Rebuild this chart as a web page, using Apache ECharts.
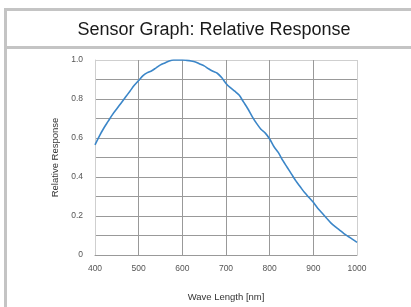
<!DOCTYPE html>
<html><head><meta charset="utf-8">
<script src="https://cdn.jsdelivr.net/npm/echarts@6/dist/echarts.min.js"></script>
<style>html,body{margin:0;padding:0;background:#fff;}#c{width:411px;height:307px;}</style>
</head><body><div id="c"></div>
<script>
const titleText = 'Sensor Graph: Relative Response';
const xName = 'Wave Length [nm]';
const yName = 'Relative Response';
const wavelengths = [400,410,420,430,440,450,460,470,480,490,500,510,520,530,540,550,560,570,580,590,600,610,620,630,640,650,660,670,680,690,700,710,720,730,740,750,760,770,780,790,800,810,820,830,840,850,860,870,880,890,900,910,920,930,940,950,960,970,980,990,1000];
const response = [0.565,0.61,0.65,0.685,0.72,0.75,0.78,0.81,0.84,0.87,0.895,0.92,0.935,0.945,0.96,0.975,0.985,0.995,1.0,1.0,1.0,0.998,0.995,0.99,0.98,0.97,0.955,0.942,0.932,0.91,0.88,0.858,0.84,0.82,0.785,0.75,0.71,0.675,0.645,0.625,0.595,0.555,0.525,0.485,0.45,0.415,0.38,0.35,0.32,0.295,0.27,0.24,0.215,0.19,0.165,0.145,0.128,0.11,0.095,0.08,0.065];
const xTicks = [400,500,600,700,800,900,1000];
const yTicks = ['0','0.2','0.4','0.6','0.8','1.0'];

const chart = echarts.init(document.getElementById('c'), null, {renderer:'canvas'});
const frame = '#c4c4c4';
const gridDark = '#999999';
const gridLight = '#cfcfcf';
chart.setOption({
  animation:false,
  backgroundColor:'#fff',
  title:{text:titleText,left:209,top:15,textAlign:'center',
    textStyle:{fontFamily:'Liberation Sans, Arial',fontSize:18,fontWeight:'normal',color:'#1a1a1a',lineHeight:20}},
  graphic:[
    {type:'rect',shape:{x:4,y:8,width:3,height:299},style:{fill:frame},silent:true},
    {type:'rect',shape:{x:4,y:8,width:407,height:3},style:{fill:frame},silent:true},
    {type:'rect',shape:{x:4,y:46,width:407,height:3},style:{fill:frame},silent:true}
  ],
  grid:{left:95,top:60,width:262,height:200,containLabel:false},
  xAxis:{type:'value',min:400,max:1000,interval:100,
    name:xName,nameLocation:'middle',nameGap:37,
    nameTextStyle:{fontFamily:'Liberation Sans, Arial',fontSize:9.5,color:'#333'},
    axisLine:{show:true,lineStyle:{color:gridDark,width:1}},
    axisTick:{show:false},
    axisLabel:{fontFamily:'Liberation Sans, Arial',fontSize:8.5,color:'#555',margin:9,
      formatter:v=>String(xTicks.find(t=>t===v))},
    splitLine:{show:true,lineStyle:{color:[gridLight,gridDark,gridDark,gridDark,gridDark,gridDark,gridLight],width:1}}
  },
  yAxis:{type:'value',min:0,max:1,interval:0.2,
    name:yName,nameLocation:'middle',nameGap:32,nameRotate:90,
    nameTextStyle:{fontFamily:'Liberation Sans, Arial',fontSize:9.5,color:'#333'},
    axisLine:{show:true,lineStyle:{color:gridLight,width:1}},
    axisTick:{show:false},
    minorTick:{show:false,splitNumber:2},
    minorSplitLine:{show:true,lineStyle:{color:gridDark,width:1}},
    axisLabel:{fontFamily:'Liberation Sans, Arial',fontSize:8.5,color:'#555',margin:12,
      formatter:v=>yTicks[Math.round(v*5)]},
    splitLine:{show:true,lineStyle:{color:[gridDark,gridDark,gridDark,gridDark,gridDark,gridLight],width:1}}
  },
  series:[{type:'line',data:wavelengths.map((w,i)=>[w,response[i]]),showSymbol:false,smooth:0.3,
    lineStyle:{color:'#3b86c8',width:1.6}}]
});
</script></body></html>
